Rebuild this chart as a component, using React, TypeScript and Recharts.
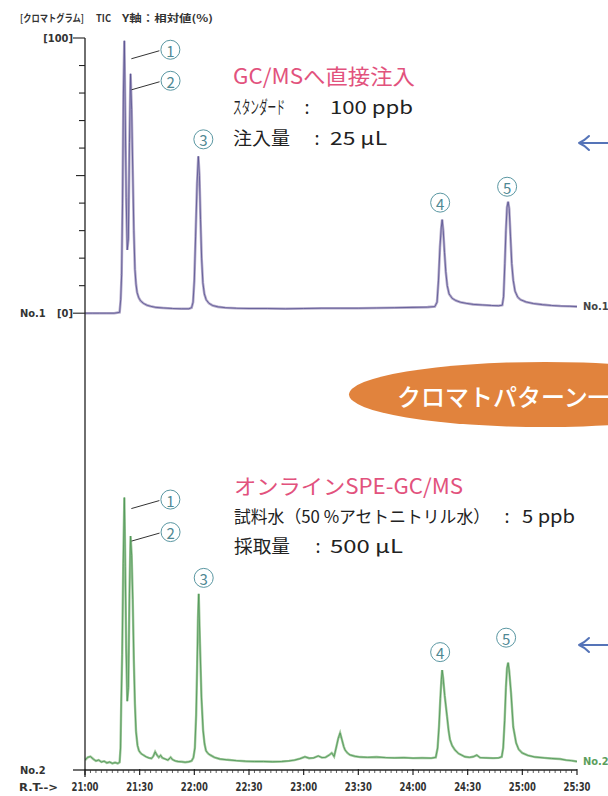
import React from 'react';
import { ComposedChart, Line, XAxis, YAxis, ReferenceDot } from 'recharts';

// retention time in seconds after 21:00
const majorTicks = [0, 30, 60, 90, 120, 150, 180, 210, 240, 270];
const tickLabels = ['21:00', '21:30', '22:00', '22:30', '23:00', '23:30', '24:00', '24:30', '25:00', '25:30'];
const minorTicks = Array.from({ length: 91 }, (_, i) => i * 3);
const yTicks = [0, 10, 20, 30, 40, 50, 60, 70, 80, 90, 100];

// No.1: GC/MS direct injection (relative %)
const no1: [number, number][] = [
  [0, 0], [4, 0], [8, 0], [12, 0], [16, 0], [19, 0.3], [19.6, 5], [20.1, 14], [20.6, 40], [21.1, 80],
  [21.6, 99], [22.1, 72], [22.6, 42], [23.2, 23], [23.8, 27], [24.4, 62], [25.0, 87], [25.6, 74], [26.2, 52],
  [26.8, 30], [27.4, 16], [28.0, 10.5], [28.6, 7.5], [29.5, 5.6], [30.5, 4.5], [32, 3.6], [34, 2.9], [36, 2.5],
  [39, 2.1], [43, 1.9], [48, 1.7], [53, 1.6], [57, 1.6], [58.5, 2], [59.3, 4], [60, 12], [60.7, 28], [61.5, 47],
  [62.2, 57], [62.8, 50], [63.4, 34], [64, 20], [64.7, 11], [65.5, 7], [66.5, 4.9], [68, 3.6], [70, 2.8],
  [73, 2.3], [77, 2], [83, 1.8], [90, 1.7], [100, 1.7], [110, 1.6], [120, 1.7], [130, 1.8], [140, 1.8],
  [150, 1.8], [160, 1.9], [170, 2], [180, 2.1], [188, 2.2], [192, 2.4], [193.2, 4], [194, 12], [194.8, 24],
  [195.5, 31], [196, 34], [196.6, 30], [197.3, 22], [198, 15], [198.8, 10], [199.8, 7], [201.5, 5.4],
  [203.5, 4.6], [206, 4], [209, 3.6], [213, 3.2], [218, 3], [223, 2.8], [227, 2.7], [229, 2.9], [229.7, 6],
  [230.4, 18], [231, 30], [231.6, 38.5], [232.2, 40.5], [232.8, 38], [233.5, 28], [234.2, 18], [235, 12],
  [236, 8], [237.5, 5.8], [239, 4.9], [242, 4.1], [246, 3.5], [251, 3.1], [256, 2.8], [261, 2.6], [266, 2.5],
  [270, 2.4],
];

// No.2: online SPE-GC/MS (relative %)
const no2: [number, number][] = [
  [0, 3.6], [1.5, 4.6], [3, 4.9], [4.5, 4.0], [6, 3.3], [7.5, 3.6], [9, 2.9], [10.5, 3.2], [12, 2.6],
  [13.5, 2.9], [15, 2.4], [16.5, 2.7], [18, 2.4], [19, 2.8], [19.5, 8], [19.9, 25], [20.4, 42], [21, 75],
  [21.6, 99], [22.1, 74], [22.6, 44], [23.2, 25], [23.8, 30], [24.4, 64], [25.0, 85], [25.6, 78], [26.2, 62],
  [26.8, 40], [27.4, 24], [28, 14], [28.8, 9], [29.6, 7], [30.7, 6], [31.8, 5.5], [33.5, 4.8], [35, 4.4],
  [36.5, 4.2], [37.5, 5], [38.5, 6.6], [39.5, 5.4], [40.5, 4.6], [41.5, 5.3], [42.5, 4.4], [44, 4], [45.5, 3.6],
  [47, 4.6], [48, 3.8], [49.5, 3.3], [51, 3.1], [53, 3], [55, 2.8], [57, 3], [58.5, 3.3], [59.5, 4.5], [60.3, 8],
  [61, 20], [61.5, 36], [62, 55], [62.4, 64], [63.1, 46], [63.9, 26.5], [64.8, 14.5], [65.6, 9.5], [66.4, 7],
  [67.5, 6], [68.6, 5.5], [71, 4.6], [74, 4], [78, 3.7], [83, 3.4], [88, 3.2], [93, 3.1], [98, 3.1], [103, 3.0],
  [108, 3.1], [112, 3.3], [115, 3.6], [118, 4.1], [120.7, 4.8], [123, 4.3], [125.5, 4.4], [128, 5.1], [130, 4.5],
  [132, 4.6], [134, 5.4], [135.4, 6.2], [136.7, 4.9], [137.8, 8], [139, 11.5], [140, 13.5], [141, 11], [142, 8.5],
  [142.7, 7.3], [144, 6.2], [145.4, 5.5], [148, 5], [151, 4.7], [155, 4.6], [160, 4.7], [165, 4.5], [170, 4.4],
  [175, 4.5], [180, 4.3], [185, 4.4], [190, 4.3], [192.5, 4.6], [193.5, 8], [194.3, 16], [195, 26], [195.6, 33],
  [196, 36.3], [196.6, 33], [197.4, 27], [198.7, 19.4], [199.5, 14.5], [200.3, 11], [201.5, 8.8], [203, 7.3],
  [205, 6], [208.5, 4.8], [211, 4.6], [213, 4.8], [215, 5.4], [216.8, 4.5], [220, 4.4], [224, 4.3], [227, 4.4],
  [228.7, 4.8], [229.5, 8], [230.3, 18], [231, 30], [231.6, 37], [232.2, 39], [232.8, 36], [233.8, 28],
  [235, 15.7], [236.6, 9.8], [238, 7.5], [239.9, 6.2], [243, 5.3], [247, 4.7], [252, 4.4], [256, 4.2],
  [260.7, 4], [264, 3.6], [267, 3.4], [270, 3.1],
];

const peakNames = ['①', '②', '③', '④', '⑤'];
const peakTimes1 = [21.6, 25.0, 62.2, 196, 232.2];
const peakTimes2 = [21.6, 25.0, 62.4, 196, 232.2];

// label offsets from the peak top (px)
const offsets1 = [[46, 9], [40, 7], [5, -17], [-2, -17], [-1, -15]];
const offsets2 = [[46, 2], [40, -4], [5, -16], [-2, -18], [-2, -25]];

const toRows = (s: [number, number][]) => s.map(([t, v]) => ({ t, v }));
const rows1 = toRows(no1);
const rows2 = toRows(no2);
const valueAt = (s: [number, number][], t: number) => (s.find((p) => p[0] === t) || [t, 0])[1];

const narrow = "'Liberation Sans Narrow', 'DejaVu Sans Condensed', 'Noto Sans CJK JP', sans-serif";
const jp = "'Noto Sans CJK JP', 'Noto Sans', sans-serif";
const teal = '#5a97a2';

const XTick = (props: any) => {
  const { x, y, payload } = props;
  const i = majorTicks.indexOf(payload.value);
  if (i < 0) return <line x1={x} x2={x} y1={y} y2={y + 3} stroke="#333" strokeWidth={0.8} />;
  return (
    <g>
      <line x1={x} x2={x} y1={y - 1} y2={y + 5} stroke="#222" strokeWidth={1.2} />
      <text x={x} y={y + 17} textAnchor="middle" dominantBaseline="central" fontFamily={narrow} fontWeight="bold"
        fontSize={12} fill="#333" textLength={27} lengthAdjust="spacingAndGlyphs">{tickLabels[i]}</text>
    </g>
  );
};

const YTick = (props: any) => {
  const { x, y, payload } = props;
  const v = payload.value;
  const len = v === 0 || v === 100 ? 12 : v === 50 ? 9 : 6;
  return (
    <g>
      <line x1={x - len} x2={x} y1={y} y2={y} stroke="#222" strokeWidth={1.1} />
      {v === 100 && (
        <text x={x - 12} y={y} textAnchor="end" dominantBaseline="central" fontFamily={narrow} fontWeight="bold"
          fontSize={11} fill="#333">[100]</text>
      )}
      {v === 0 && (
        <g>
          <text x={x - 12} y={y} textAnchor="end" dominantBaseline="central" fontFamily={narrow} fontWeight="bold"
            fontSize={11} fill="#333">[0]</text>
          <text x={20} y={y} dominantBaseline="central" fontFamily={narrow} fontWeight="bold" fontSize={11}
            fill="#333">No.1</text>
        </g>
      )}
    </g>
  );
};

const PeakMark = ({ viewBox, name, dx, dy, leader }: any) => {
  const cx = viewBox.x + viewBox.width / 2 + dx;
  const cy = viewBox.y + viewBox.height / 2 + dy;
  return (
    <g>
      {leader && <line x1={cx - 39} y1={cy + 9} x2={cx - 11} y2={cy + 1} stroke="#333" strokeWidth={1} />}
      <circle cx={cx} cy={cy} r={9.5} fill="#fff" stroke={teal} strokeWidth={1} />
      <text x={cx} y={cy + 0.5} textAnchor="middle" dominantBaseline="central" fontFamily={jp} fontSize={15}
        fill="#4f8893">{name.charCodeAt(0) - 0x245f}</text>
    </g>
  );
};

const EndLabel = ({ viewBox, text, color }: any) => (
  <text x={viewBox.x + viewBox.width / 2 + 6} y={viewBox.y + viewBox.height / 2} dominantBaseline="central"
    fontFamily={narrow} fontWeight="bold" fontSize={11} fill={color}>{text}</text>
);

const Arrow = ({ y }: { y: number }) => (
  <g stroke="#5574b8" strokeWidth={2} fill="none" strokeLinecap="round" strokeLinejoin="round">
    <line x1={580} y1={y} x2={612} y2={y} />
    <path d={`M 589 ${y - 7} Q 584 ${y - 2} 579 ${y} Q 584 ${y + 2} 589 ${y + 7}`} />
  </g>
);

export default function App() {
  const last1 = no1[no1.length - 1];
  const last2 = no2[no2.length - 1];
  return (
    <div style={{ position: 'absolute', left: 0, top: 0, width: 608, height: 796, background: '#fff', overflow: 'hidden' }}>
      <ComposedChart width={608} height={796} margin={{ top: 38, right: 31, bottom: 0, left: 0 }}>
        <XAxis type="number" dataKey="t" domain={[0, 270]} ticks={minorTicks} interval={0} tick={<XTick />}
          tickLine={false} tickSize={0} tickMargin={0} height={26} stroke="#222" strokeWidth={1.3} allowDataOverflow />
        <YAxis yAxisId="no1" type="number" domain={[-166, 100]} ticks={yTicks} interval={0} tick={<YTick />}
          tickLine={false} tickSize={0} tickMargin={0} width={85} stroke="#222" strokeWidth={1.3} allowDataOverflow />
        <YAxis yAxisId="no2" type="number" domain={[0, 266]} hide allowDataOverflow />

        <Line yAxisId="no1" data={rows1} dataKey="v" type="linear" dot={false} stroke="#b3aac9" strokeWidth={2.6}
          isAnimationActive={false} />
        <Line yAxisId="no1" data={rows1} dataKey="v" type="linear" dot={false} stroke="#565190" strokeWidth={0.8}
          isAnimationActive={false} />
        <Line yAxisId="no2" data={rows2} dataKey="v" type="linear" dot={false} stroke="#9fc79a" strokeWidth={2.4}
          isAnimationActive={false} />
        <Line yAxisId="no2" data={rows2} dataKey="v" type="linear" dot={false} stroke="#4b9656" strokeWidth={0.8}
          isAnimationActive={false} />

        {peakTimes1.map((t, i) => (
          <ReferenceDot key={`p1-${i}`} yAxisId="no1" x={t} y={valueAt(no1, t)} r={1} fill="none" stroke="none"
            label={(p: any) => <PeakMark viewBox={p.viewBox} name={peakNames[i]} dx={offsets1[i][0]} dy={offsets1[i][1]} leader={i < 2} />} />
        ))}
        {peakTimes2.map((t, i) => (
          <ReferenceDot key={`p2-${i}`} yAxisId="no2" x={t} y={valueAt(no2, t)} r={1} fill="none" stroke="none"
            label={(p: any) => <PeakMark viewBox={p.viewBox} name={peakNames[i]} dx={offsets2[i][0]} dy={offsets2[i][1]} leader={i < 2} />} />
        ))}
        <ReferenceDot yAxisId="no1" x={last1[0]} y={last1[1]} r={1} fill="none" stroke="none"
          label={(p: any) => <EndLabel viewBox={p.viewBox} text="No.1" color="#444" />} />
        <ReferenceDot yAxisId="no2" x={last2[0]} y={last2[1]} r={1} fill="none" stroke="none"
          label={(p: any) => <EndLabel viewBox={p.viewBox} text="No.2" color="#5c9e5c" />} />
      </ComposedChart>

      <svg width={608} height={796} style={{ position: 'absolute', left: 0, top: 0, pointerEvents: 'none' }}>
        {/* header */}
        <g fontFamily={jp} fontWeight="bold" fontSize={10} fill="#333" dominantBaseline="central">
          <text x={20} y={17} textLength={64} lengthAdjust="spacingAndGlyphs">[クロマトグラム]</text>
          <text x={96} y={17} textLength={15} lengthAdjust="spacingAndGlyphs">TIC</text>
          <text x={122} y={17} textLength={91} lengthAdjust="spacingAndGlyphs">Y軸：相対値(%)</text>
        </g>
        <line x1={73} x2={85} y1={770} y2={770} stroke="#222" strokeWidth={1.3} />
        <line x1={85} x2={85} y1={770} y2={777} stroke="#222" strokeWidth={1.3} />
        <g fontFamily={narrow} fontWeight="bold" fontSize={11} fill="#333" dominantBaseline="central">
          <text x={20} y={770}>No.2</text>
          <text x={19} y={787} textLength={39} lengthAdjust="spacingAndGlyphs">R.T--&gt;</text>
        </g>

        {/* GC/MS block */}
        <g fontFamily={jp} dominantBaseline="central" fill="#222">
          <text x={233} y={75} fontSize={21} fill="#e2527d" textLength={182} lengthAdjust="spacingAndGlyphs">GC/MSへ直接注入</text>
          <text transform="translate(233 106) scale(0.48 1)" x={0} y={0} fontSize={18}>スタンダード</text>
          <text x={307} y={106} fontSize={18} textAnchor="middle">:</text>
          <text x={330} y={106} fontSize={18} textLength={83} lengthAdjust="spacingAndGlyphs">100 ppb</text>
          <text x={233} y={137} fontSize={18} textLength={57} lengthAdjust="spacingAndGlyphs">注入量</text>
          <text x={317} y={137} fontSize={18} textAnchor="middle">:</text>
          <text x={330} y={137} fontSize={18} textLength={57} lengthAdjust="spacingAndGlyphs">25 µL</text>
        </g>

        {/* online SPE block */}
        <g fontFamily={jp} dominantBaseline="central" fill="#222">
          <text x={234} y={485} fontSize={21} fill="#e2527d" textLength={229} lengthAdjust="spacingAndGlyphs">オンラインSPE-GC/MS</text>
          <text x={234} y={515} fontSize={17} textLength={256} lengthAdjust="spacingAndGlyphs">試料水（50 %アセトニトリル水）</text>
          <text x={507} y={515} fontSize={18} textAnchor="middle">:</text>
          <text x={522} y={515} fontSize={18} textLength={53} lengthAdjust="spacingAndGlyphs">5 ppb</text>
          <text x={234} y={545} fontSize={18} textLength={56} lengthAdjust="spacingAndGlyphs">採取量</text>
          <text x={318} y={545} fontSize={18} textAnchor="middle">:</text>
          <text x={330} y={545} fontSize={18} textLength={73} lengthAdjust="spacingAndGlyphs">500 µL</text>
        </g>

        {/* pattern match badge (runs off the right edge, as in the source figure) */}
        <ellipse cx={545} cy={394.5} rx={196} ry={32.5} fill="#e1833d" />
        <text x={397} y={395} fontFamily={jp} fontSize={24} fill="#fff" dominantBaseline="central" fontWeight="500">クロマトパターン一致</text>

        <Arrow y={143} />
        <Arrow y={645} />
      </svg>
    </div>
  );
}
